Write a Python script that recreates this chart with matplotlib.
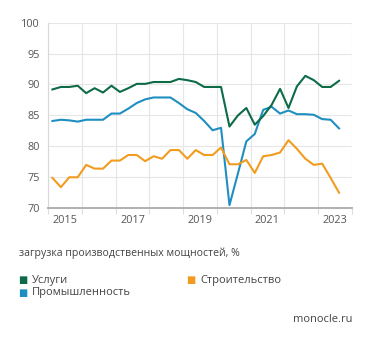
import matplotlib.pyplot as plt
import numpy as np

plt.rcParams['font.family'] = ['Open Sans', 'DejaVu Sans']

# quarterly capacity utilisation, 2015 Q1 .. 2023 Q3
quarters = np.arange(2015.125, 2023.7, 0.25)
services = [89.2, 89.6, 89.6, 89.8, 88.6, 89.4, 88.7, 89.8, 88.8, 89.4,
            90.1, 90.1, 90.4, 90.4, 90.4, 90.9, 90.7, 90.4, 89.6, 89.6,
            89.6, 83.2, 85.0, 86.2, 83.5, 84.9, 86.7, 89.3, 86.2, 89.7,
            91.4, 90.7, 89.6, 89.6, 90.6]
industry = [84.1, 84.3, 84.2, 84.0, 84.3, 84.3, 84.3, 85.3, 85.3, 86.1,
            87.0, 87.6, 87.9, 87.9, 87.9, 87.0, 86.0, 85.4, 84.1, 82.6,
            83.0, 70.5, 75.6, 80.8, 82.0, 85.9, 86.4, 85.3, 85.8, 85.2,
            85.2, 85.1, 84.4, 84.3, 82.9]
construction = [74.9, 73.4, 75.0, 75.0, 77.0, 76.4, 76.4, 77.7, 77.7, 78.6,
                78.6, 77.6, 78.4, 78.0, 79.4, 79.4, 78.0, 79.4, 78.6, 78.6,
                79.8, 77.1, 77.1, 77.8, 75.7, 78.4, 78.6, 79.0, 81.0, 79.6,
                78.0, 77.0, 77.2, 74.9, 72.5]
year_labels = ['2015', '2017', '2019', '2021', '2023']
y_ticks = [70, 75, 80, 85, 90, 95, 100]

c_serv = '#0e6b47'
c_ind = '#1e8fc0'
c_con = '#f29c1f'

fig = plt.figure(figsize=(3.71, 3.43), dpi=100)
ax = fig.add_axes([0.130, 0.393, 0.818, 0.541])

ax.plot(quarters, services, color=c_serv, lw=1.5, zorder=3)
ax.plot(quarters, industry, color=c_ind, lw=1.5, zorder=2)
ax.plot(quarters, construction, color=c_con, lw=1.5, zorder=2)

ax.set_xlim(2015, 2024)
ax.set_ylim(70, 100)

# gridlines at year boundaries, labels in the middle of the year
ax.set_xticks(np.arange(2015, 2025))
ax.set_xticklabels([])
ax.set_xticks([int(y) + 0.5 for y in year_labels], minor=True)
ax.set_xticklabels(year_labels, minor=True)
ax.set_yticks(y_ticks)
ax.set_yticklabels([str(v) for v in y_ticks])

ax.tick_params(axis='x', which='major', length=4, color='#dddddd', width=0.8)
ax.tick_params(axis='x', which='minor', length=0, pad=5,
               labelsize=7.8, labelcolor='#555555')
ax.tick_params(axis='y', length=0, pad=6, labelsize=7.8, labelcolor='#555555')

ax.grid(True, which='major', color='#e6e6e6', lw=0.8)
ax.set_axisbelow(True)
for s in ['top', 'right']:
    ax.spines[s].set_visible(False)
ax.spines['left'].set_color('#d8d8d8')
ax.spines['left'].set_linewidth(0.8)
ax.spines['bottom'].set_color('#b0b0b0')
ax.spines['bottom'].set_linewidth(1.4)

fig.text(19 / 371, 1 - 253 / 343, 'загрузка производственных мощностей, %',
         fontsize=7.6, color='#444444', va='center', ha='left')

# legend drawn by hand as coloured squares
legend = [('Услуги', c_serv, 18, 280), ('Промышленность', c_ind, 18, 293),
          ('Строительство', c_con, 186, 280)]
for name, col, px, py in legend:
    fig.text(px / 371, 1 - py / 343, '\u25a0', color=col, fontsize=7,
             va='center', ha='left', family='DejaVu Sans')
    fig.text((px + 14) / 371, 1 - py / 343, name, color='#444444',
             fontsize=8, va='center', ha='left')

fig.text(352 / 371, 1 - 320 / 343, 'monocle.ru', fontsize=8,
         color='#444444', va='center', ha='right')

fig.savefig('out.png', dpi=100)
